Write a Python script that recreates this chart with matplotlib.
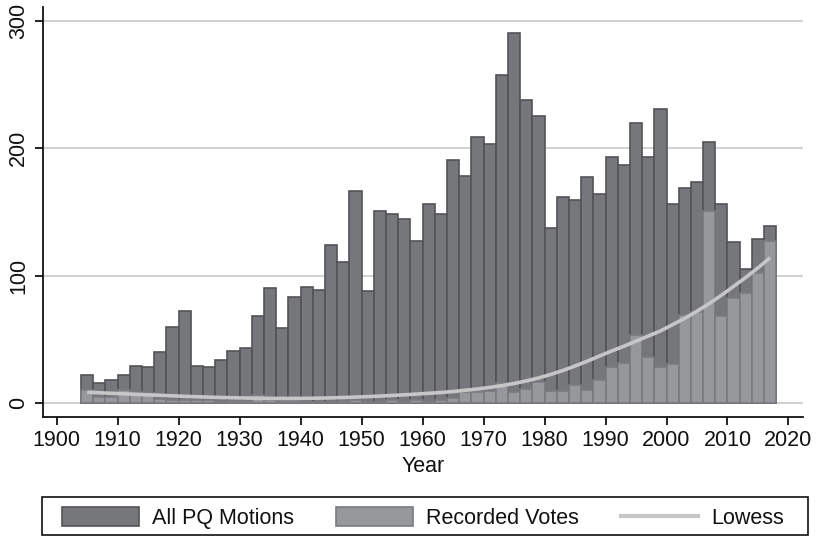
import matplotlib
matplotlib.use("Agg")
import matplotlib.pyplot as plt
from matplotlib.patches import Patch, Rectangle
from matplotlib.lines import Line2D

plt.rcParams['font.family'] = ['Liberation Sans', 'DejaVu Sans']

# Two-year bins, labelled by their centre year
years = list(range(1905, 2018, 2))

all_pq_motions = [
    22, 16, 18, 22, 29, 28, 40, 60, 72, 29,
    28, 34, 41, 43, 68, 90, 59, 83, 91, 89,
    124, 111, 166, 88, 151, 148, 144, 127, 156, 148,
    191, 178, 209, 203, 257, 290, 238, 225, 137, 162,
    159, 177, 164, 193, 187, 220, 193, 231, 156, 169,
    173, 205, 156, 126, 105, 129, 139,
]

recorded_votes = [
    10, 5, 5, 10, 9, 8, 3, 2, 2, 2,
    2.5, 1, 1.5, 1.5, 6, 2, 1.5, 1.5, 1, 1,
    1, 1.5, 2, 1, 1, 2, 1, 2.3, 1, 2.3,
    3.6, 8.5, 9, 9.5, 16, 9, 11, 16.5, 9.4, 9.4,
    14.3, 10.2, 18.3, 28.4, 31.3, 53, 36.3, 28.4, 30.5, 69,
    71.5, 151, 68, 82.5, 86, 102, 127,
]

lowess = [
    8.4, 8.0, 7.6, 7.2, 6.8, 6.4, 6.0, 5.6, 5.2, 4.9,
    4.6, 4.3, 4.1, 3.9, 3.7, 3.6, 3.6, 3.6, 3.7, 3.8,
    4.0, 4.3, 4.6, 5.0, 5.4, 5.9, 6.4, 7.0, 7.6, 8.2,
    9.0, 10.0, 11.0, 12.2, 13.6, 15.3, 17.3, 19.6, 22.4, 25.5,
    29.0, 32.8, 36.8, 40.8, 44.5, 48.5, 52.5, 56.5, 61.5, 66.5,
    72.0, 78.0, 84.5, 91.5, 98.5, 106.0, 114.0,
]

x_ticks = list(range(1900, 2021, 10))
y_ticks = [0, 100, 200, 300]

dark_fill, dark_edge = '#76777b', '#545457'
light_fill, light_edge = '#97989b', '#7a7b7e'
lowess_color = '#c6c6c6'
ink = '#111111'
fs = 15.5

W, H = 817, 536
fig = plt.figure(figsize=(W / 100, H / 100), dpi=100)
ax = fig.add_axes([0.0526, 0.222, 0.9304, 0.765])

ax.set_axisbelow(True)
ax.yaxis.grid(True, color='#d2d2d2', linewidth=1.5)

ax.bar(years, all_pq_motions, width=2, color=dark_fill,
       edgecolor=dark_edge, linewidth=1.2, zorder=2)
ax.bar(years, recorded_votes, width=2, color=light_fill,
       edgecolor=light_edge, linewidth=1.2, zorder=3)
ax.plot(years, lowess, color=lowess_color, linewidth=2.6,
        solid_capstyle='butt', zorder=4)

ax.set_xlim(1897.75, 2022.4)
ax.set_ylim(-11, 310.7)
ax.set_xticks(x_ticks)
ax.set_yticks(y_ticks)

for side in ('top', 'right'):
    ax.spines[side].set_visible(False)
for side in ('left', 'bottom'):
    ax.spines[side].set_linewidth(1.3)
    ax.spines[side].set_color(ink)

ax.tick_params(axis='both', length=6, width=1.3, color=ink,
               labelsize=fs, labelcolor=ink)
ax.tick_params(axis='y', labelrotation=90, pad=4)
ax.tick_params(axis='x', pad=3)
for lab in ax.get_yticklabels():
    lab.set_va('center')

ax.set_xlabel('Year', fontsize=fs, color=ink, labelpad=4)

# Legend entries, with a plain rectangular frame around the key
handles = [
    Patch(facecolor=dark_fill, edgecolor=dark_edge, linewidth=1.2),
    Patch(facecolor=light_fill, edgecolor=light_edge, linewidth=1.2),
    Line2D([0], [0], color=lowess_color, linewidth=3.0),
]
labels = ['All PQ Motions', 'Recorded Votes', 'Lowess']
leg = fig.legend(handles, labels, loc='center', ncol=3,
                 bbox_to_anchor=(0.5177, 1 - 518 / H), frameon=False,
                 fontsize=fs, handlelength=3.6, handleheight=1.0,
                 handletextpad=0.6, columnspacing=1.93,
                 borderpad=0, borderaxespad=0)
for t in leg.get_texts():
    t.set_color(ink)

fig.add_artist(Rectangle((42 / W, 1 - 535 / H), (808 - 42) / W, 38 / H,
                         transform=fig.transFigure, fill=False,
                         edgecolor=ink, linewidth=1.2))

fig.savefig('out.png', dpi=100)
